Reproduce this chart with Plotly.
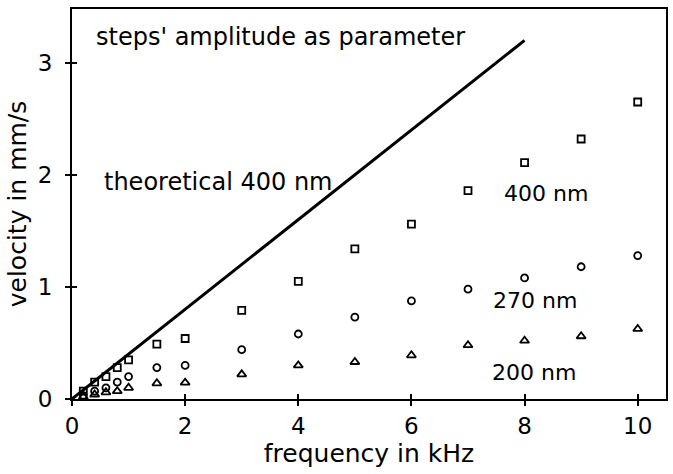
import plotly.graph_objects as go

freq = [0.2, 0.4, 0.6, 0.8, 1, 1.5, 2, 3, 4, 5, 6, 7, 8, 9, 10]
v400 = [0.07, 0.15, 0.20, 0.28, 0.35, 0.49, 0.54, 0.79, 1.05, 1.34, 1.56, 1.86, 2.11, 2.32, 2.65]
v270 = [0.03, 0.07, 0.10, 0.15, 0.20, 0.28, 0.30, 0.44, 0.58, 0.73, 0.875, 0.98, 1.08, 1.18, 1.28]
v200 = [0.02, 0.04, 0.06, 0.07, 0.10, 0.14, 0.146, 0.22, 0.30, 0.33, 0.39, 0.48, 0.52, 0.56, 0.625]
theo_f = [0, 8]
theo_v = [0, 3.2]

x_ticks = [0, 2, 4, 6, 8, 10]
y_ticks = [0, 1, 2, 3]

FONT = "DejaVu Sans, sans-serif"
fig = go.Figure()
fig.add_trace(go.Scatter(x=theo_f, y=theo_v, mode="lines", line=dict(color="black", width=3), showlegend=False))
fig.add_trace(go.Scatter(x=freq, y=v400, mode="markers", marker=dict(symbol="square-open", size=7, color="black", line=dict(width=1.8)), showlegend=False))
fig.add_trace(go.Scatter(x=freq, y=v270, mode="markers", marker=dict(symbol="circle-open", size=7, color="black", line=dict(width=1.8)), showlegend=False))
fig.add_trace(go.Scatter(x=freq, y=v200, mode="markers", marker=dict(symbol="triangle-up-open", size=8, color="black", line=dict(width=1.8)), showlegend=False))
# invisible trace for the inner-tick overlay axes
fig.add_trace(go.Scatter(x=[0], y=[0], xaxis="x2", yaxis="y2", mode="markers", marker=dict(opacity=0), showlegend=False, hoverinfo="skip"))

TICKFONT = dict(family=FONT, size=23, color="black")
TITLEFONT = dict(family=FONT, size=25, color="black")
axis_common = dict(showgrid=False, zeroline=False, linecolor="black", linewidth=2, ticks="outside", ticklen=5, tickwidth=2, tickcolor="black",
                   tickfont=TICKFONT)
fig.update_layout(
    width=673, height=474,
    margin=dict(l=72, r=5, t=9, b=75),
    paper_bgcolor="white", plot_bgcolor="white",
    font=dict(family=FONT, size=24, color="black"),
    xaxis=dict(range=[0, 10.5], tickvals=x_ticks, mirror=True, showline=True,
               title=dict(text="frequency in kHz", standoff=2, font=TITLEFONT), **axis_common),
    yaxis=dict(range=[0, 3.48], tickvals=y_ticks, mirror=True, showline=True, ticklabelstandoff=8,
               title=dict(text="velocity in mm/s", standoff=4, font=TITLEFONT), **axis_common),
    xaxis2=dict(range=[0, 10.5], overlaying="x", tickvals=x_ticks, showticklabels=False, showgrid=False, zeroline=False,
                ticks="inside", ticklen=5, tickwidth=2, tickcolor="black", showline=False),
    yaxis2=dict(range=[0, 3.48], overlaying="y", tickvals=y_ticks, showticklabels=False, showgrid=False, zeroline=False,
                ticks="inside", ticklen=5, tickwidth=2, tickcolor="black", showline=False),
)

ann = [
    ("steps' amplitude as parameter", 94, 37, 24),
    ("theoretical 400 nm", 102, 182, 24),
    ("400 nm", 503, 193, 22),
    ("270 nm", 492, 300, 22),
    ("200 nm", 491, 372, 22),
]
for text, px, py, fs in ann:
    fig.add_annotation(text=text, xref="paper", yref="paper",
                       x=(px - 72) / (673 - 77), y=1 - (py - 9) / (474 - 84),
                       xanchor="left", yanchor="middle", showarrow=False,
                       font=dict(family=FONT, size=fs, color="black"))

fig.write_html("out.html")
